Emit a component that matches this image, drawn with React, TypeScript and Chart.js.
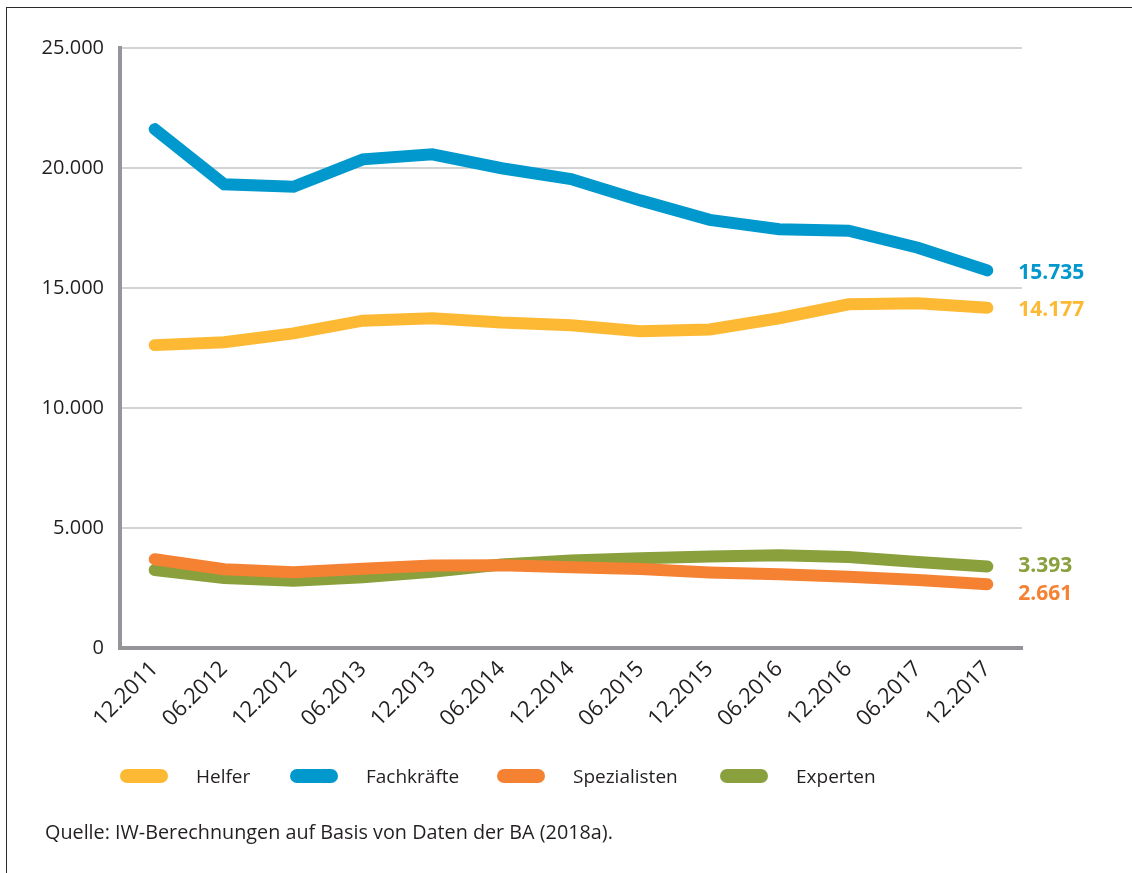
import { useEffect, useRef } from "react";
import Chart from "chart.js/auto";

// Stichtage (x-Achse)
const periods = [
  "12.2011", "06.2012", "12.2012", "06.2013", "12.2013", "06.2014", "12.2014",
  "06.2015", "12.2015", "06.2016", "12.2016", "06.2017", "12.2017",
];

// Werte je Anforderungsniveau
const helfer = [12620, 12740, 13110, 13640, 13740, 13560, 13450, 13200, 13270, 13740, 14320, 14360, 14177];
const fachkraefte = [21620, 19320, 19220, 20360, 20570, 19990, 19540, 18650, 17840, 17450, 17390, 16680, 15735];
const spezialisten = [3700, 3280, 3160, 3300, 3440, 3450, 3360, 3290, 3150, 3070, 2970, 2830, 2661];
const experten = [3250, 2920, 2800, 2950, 3180, 3480, 3650, 3740, 3810, 3860, 3790, 3580, 3393];

const seriesNames = ["Helfer", "Fachkräfte", "Spezialisten", "Experten"];
const seriesValues = [helfer, fachkraefte, spezialisten, experten];

// y-Achse
const yMax = 25000;
const yStep = 5000;

const source = "Quelle: IW-Berechnungen auf Basis von Daten der BA (2018a).";

const colors = ["#fdb933", "#0098cd", "#f58232", "#8aa03c"];
const labelShift = [2, 3, 10, -1];
const legendX = [120, 290, 497, 720];
const FONT = "'Open Sans', 'DejaVu Sans', sans-serif";
const TEXT = "#231f20";

const fmt = (n: number) => String(n).replace(/\B(?=(\d{3})+(?!\d))/g, ".");

const endLabels = {
  id: "endLabels",
  afterDatasetsDraw(chart: any) {
    const ctx = chart.ctx;
    ctx.save();
    ctx.font = `bold 21px ${FONT}`;
    ctx.textBaseline = "middle";
    ctx.textAlign = "left";
    chart.data.datasets.forEach((ds: any, i: number) => {
      const meta = chart.getDatasetMeta(i);
      const pt = meta.data[meta.data.length - 1];
      const last = ds.data[ds.data.length - 1];
      ctx.fillStyle = ds.borderColor;
      ctx.fillText(fmt(last), pt.x + 31, pt.y + labelShift[i]);
    });
    ctx.restore();
  },
};

const App = () => {
  const canvasRef = useRef<HTMLCanvasElement>(null);
  const chartInstance = useRef<Chart>();

  useEffect(() => {
    if (!canvasRef.current) return;
    const ctx = canvasRef.current.getContext("2d");
    if (!ctx) return;

    if (chartInstance.current) {
      chartInstance.current.destroy();
    }

    chartInstance.current = new Chart(ctx, {
      type: "line",
      data: {
        labels: periods,
        datasets: seriesNames.map((name, i) => ({
          label: name,
          data: seriesValues[i],
          borderColor: colors[i],
          backgroundColor: colors[i],
          borderWidth: 12,
          borderCapStyle: "round" as const,
          borderJoinStyle: "miter" as const,
          pointRadius: 0,
          pointHoverRadius: 0,
          tension: 0,
          fill: false,
        })),
      },
      options: {
        responsive: false,
        animation: false,
        events: [],
        layout: { padding: { left: 0, top: 48, right: 110, bottom: 115 } },
        plugins: {
          legend: { display: false },
          tooltip: { enabled: false },
        },
        scales: {
          x: {
            offset: true,
            grid: { display: false, drawTicks: false },
            border: { display: true, color: "#939598", width: 4 },
            ticks: {
              color: TEXT,
              font: { family: FONT, size: 22 },
              minRotation: 45,
              maxRotation: 45,
              padding: 8,
              autoSkip: false,
            },
            afterFit: (scale: any) => {
              scale.height = 110;
            },
          },
          y: {
            min: 0,
            max: yMax,
            grid: { color: "#d1d3d4", lineWidth: 2, drawTicks: false },
            border: { display: true, color: "#939598", width: 4 },
            ticks: {
              stepSize: yStep,
              color: TEXT,
              font: { family: FONT, size: 20 },
              padding: 16,
              callback: (v: any) => fmt(Number(v)),
            },
            afterFit: (scale: any) => {
              scale.width = 120;
            },
          },
        },
      },
      plugins: [endLabels],
    });

    return () => {
      if (chartInstance.current) {
        chartInstance.current.destroy();
        chartInstance.current = undefined;
      }
    };
  }, []);

  return (
    <div
      style={{
        position: "absolute",
        left: 0,
        top: 0,
        width: 1132,
        height: 873,
        overflow: "hidden",
        background: "#fff",
        fontFamily: FONT,
        color: TEXT,
      }}
    >
      <div
        style={{
          position: "absolute",
          left: 6,
          top: 7,
          width: 1200,
          height: 1000,
          border: "1.5px solid #2a2a2a",
        }}
      />
      <canvas
        ref={canvasRef}
        width={1132}
        height={873}
        style={{ position: "absolute", left: 0, top: 0 }}
      ></canvas>
      {seriesNames.map((name, i) => (
        <div
          key={name}
          style={{
            position: "absolute",
            left: legendX[i],
            top: 762,
            height: 28,
            display: "flex",
            alignItems: "center",
            fontSize: 19,
            whiteSpace: "nowrap",
          }}
        >
          <span
            style={{
              display: "inline-block",
              width: 48,
              height: 14,
              borderRadius: 7,
              background: colors[i],
              marginRight: 28,
            }}
          />
          <span>{name}</span>
        </div>
      ))}
      <div
        style={{
          position: "absolute",
          left: 45,
          top: 818,
          fontSize: 19.8,
          whiteSpace: "nowrap",
        }}
      >
        {source}
      </div>
    </div>
  );
};

export default App;
